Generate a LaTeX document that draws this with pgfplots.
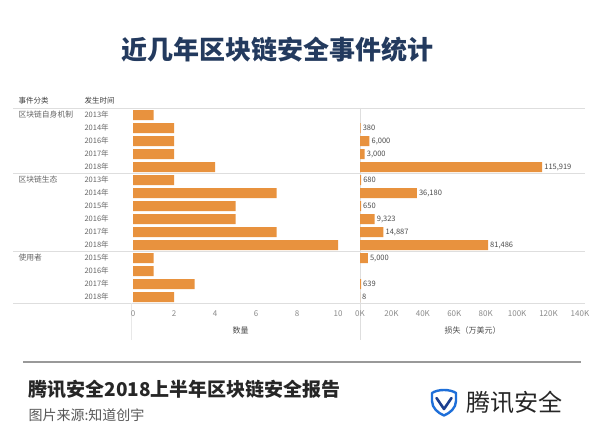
\documentclass[border=0pt]{standalone}
\usepackage{fontspec}
\setmainfont{Noto Sans CJK SC}
\usepackage{pgfplots}
\pgfplotsset{compat=1.18}
\definecolor{barc}{HTML}{E8923E}
\definecolor{titlec}{HTML}{233A5E}
\definecolor{sepc}{HTML}{DEDEDE}
\definecolor{lblc}{HTML}{666666}
\definecolor{tickc}{HTML}{8A8A8A}
\definecolor{logob}{HTML}{1E6FD9}
\definecolor{logod}{HTML}{1B3F8F}
\begin{document}
\begin{tikzpicture}[x=1pt,y=1pt]
\useasboundingbox (0,0) rectangle (600,431);
\fill[white] (0,0) rectangle (600,431);
% title
\node[font=\bfseries\fontsize{26}{28}\selectfont, text=titlec] at (277.5,381) {近几年区块链安全事件统计};
% separator lines
\draw[sepc, line width=0.8pt] (13,323) -- (585,323);
\draw[sepc, line width=0.8pt] (13,257.5) -- (585,257.5);
\draw[sepc, line width=0.8pt] (13,179.5) -- (585,179.5);
\draw[sepc, line width=0.8pt] (13,127.5) -- (585,127.5);
\draw[sepc, line width=0.8pt] (360,323) -- (360,91);
\draw[sepc!70, line width=0.6pt] (131,127.5) -- (131,91);
% headers and categories
\node[anchor=west, font=\fontsize{7.5}{8}\selectfont, text=black!75] at (15,330) {事件分类};
\node[anchor=west, font=\fontsize{7.5}{8}\selectfont, text=black!75] at (81,330) {发生时间};
\node[anchor=west, font=\fontsize{7.8}{8}\selectfont, text=lblc] at (15,316) {区块链自身机制};
\node[anchor=west, font=\fontsize{7.8}{8}\selectfont, text=lblc] at (15,251) {区块链生态};
\node[anchor=west, font=\fontsize{7.8}{8}\selectfont, text=lblc] at (15,173) {使用者};
% count axis
\begin{axis}[
  at={(131pt,127.5pt)}, anchor=south west, scale only axis,
  width=219pt, height=195pt,
  xbar, bar width=10pt,
  xmin=-0.1, xmax=10.58, ymin=0.5, ymax=15.5, y dir=reverse,
  axis line style={draw=none}, major tick length=0pt,
  xtick={0,2,4,6,8,10}, ytick={1,...,15},
  yticklabels={2013年,2014年,2016年,2017年,2018年,2013年,2014年,2015年,2016年,2017年,2018年,2015年,2016年,2017年,2018年},
  yticklabel style={anchor=west, xshift=-50pt, font=\fontsize{7.5}{8}\selectfont, text=lblc},
  xticklabel style={font=\fontsize{8}{9}\selectfont, text=tickc, yshift=-4pt},
  /pgf/number format/assume math mode=true,
  every axis x label/.style={at={(axis description cs:0.5,0)}, anchor=center, yshift=-26.5pt, font=\fontsize{8}{9}\selectfont, text=black!70},
  xlabel={数量},
  clip=false,
]
\addplot[fill=barc, draw=none] coordinates {
  (1,1) (2,2) (2,3) (2,4) (4,5)
  (2,6) (7,7) (5,8) (5,9) (7,10) (10,11)
  (1,12) (1,13) (3,14) (2,15)};
\end{axis}
% loss axis
\begin{axis}[
  at={(360pt,127.5pt)}, anchor=south west, scale only axis,
  width=225pt, height=195pt,
  xbar, bar width=10pt,
  xmin=0, xmax=143200, ymin=0.5, ymax=15.5, y dir=reverse,
  axis line style={draw=none}, major tick length=0pt,
  ytick=\empty,
  xtick={0,20000,40000,60000,80000,100000,120000,140000},
  xticklabels={0K,20K,40K,60K,80K,100K,120K,140K},
  scaled x ticks=false,
  xticklabel style={font=\fontsize{8}{9}\selectfont, text=tickc, yshift=-4pt},
  /pgf/number format/assume math mode=true,
  every axis x label/.style={at={(axis description cs:0.5,0)}, anchor=center, yshift=-26.5pt, font=\fontsize{8}{9}\selectfont, text=black!70},
  xlabel={损失（万美元）},
  point meta=x,
  nodes near coords={\pgfmathprintnumber[fixed,precision=0,1000 sep={,}]{\pgfplotspointmeta}},
  nodes near coords style={font=\fontsize{7.5}{8}\selectfont, text=black!70, anchor=west, inner sep=2pt},
  clip=false,
]
\addplot[fill=barc, draw=none] coordinates {
  (380,2) (6000,3) (3000,4) (115919,5)
  (680,6) (36180,7) (650,8) (9323,9) (14887,10) (81486,11)
  (5000,12) (639,14) (8,15)};
\end{axis}
% footer
\draw[black!40, line width=1.6pt] (23,69) -- (581,69);
\node[anchor=west, font=\bfseries\fontsize{19}{21}\selectfont, text=black!85] at (25,42) {腾讯安全2018上半年区块链安全报告};
\node[anchor=west, font=\fontsize{14}{16}\selectfont, text=black!65] at (25,16) {图片来源:知道创宇};
% logo
\draw[logob, line width=2.4pt, line join=round]
  (432,38) .. controls (438,42) and (450,42) .. (456,38)
  -- (456,30) .. controls (456,23) and (450,18) .. (444,15.5)
  .. controls (438,18) and (432,23) .. (432,30) -- cycle;
\draw[logod, line width=2.6pt, line join=round, line cap=round] (436.5,33) -- (444,22) -- (451.5,33);
\node[anchor=west, font=\fontsize{24}{26}\selectfont, text=black!85, inner sep=0pt] at (466,29) {腾讯安全};
\end{tikzpicture}
\end{document}
